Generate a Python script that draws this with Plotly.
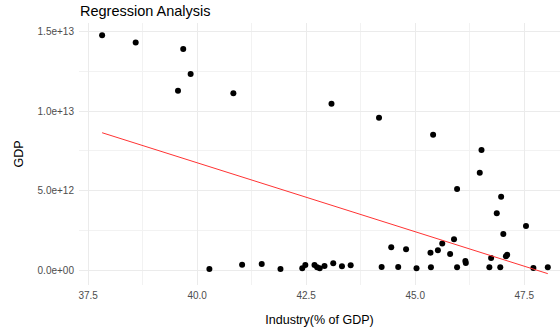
import plotly.graph_objects as go

# Industry (% of GDP) and GDP values
industry = [37.82, 38.59, 39.68, 39.85, 39.56, 40.83, 43.08, 44.17, 45.41, 46.52,
            46.48, 45.96, 46.97, 46.87, 47.54, 47.02, 45.89, 45.62, 45.52, 45.35,
            45.80, 47.11, 47.08, 46.15, 46.16, 46.74, 45.36, 45.96, 46.70, 46.95,
            47.71, 48.04, 44.45, 44.79, 44.23, 44.61, 45.03, 42.69, 42.75, 42.81,
            42.92, 43.12, 43.32, 43.52, 40.28, 41.03, 41.48, 41.91, 42.41, 42.48]
gdp_e12 = [14.77, 14.31, 13.91, 12.33, 11.28, 11.12, 10.47, 9.58, 8.51, 7.55,
           6.12, 5.10, 4.61, 3.57, 2.77, 2.27, 1.93, 1.66, 1.24, 1.09,
           1.01, 0.96, 0.86, 0.57, 0.44, 0.76, 0.17, 0.17, 0.17, 0.17,
           0.13, 0.17, 1.43, 1.30, 0.19, 0.19, 0.11, 0.31, 0.17, 0.11,
           0.25, 0.42, 0.23, 0.30, 0.06, 0.33, 0.38, 0.06, 0.11, 0.31]
gdp = [v * 1e12 for v in gdp_e12]

# regression line end points
fit_x = [37.82, 48.04]
fit_y = [8.64e12, -0.23e12]

y_tickvals = [0, 5e12, 1e13, 1.5e13]
y_ticktext = ["0.0e+00", "5.0e+12", "1.0e+13", "1.5e+13"]
x_tickvals = [37.5, 40.0, 42.5, 45.0, 47.5]
x_ticktext = ["37.5", "40.0", "42.5", "45.0", "47.5"]

W, H = 560, 333

fig = go.Figure()
fig.add_trace(go.Scatter(x=industry, y=gdp, mode="markers",
                         marker=dict(color="black", size=6), hoverinfo="x+y"))
fig.add_trace(go.Scatter(x=fit_x, y=fit_y, mode="lines",
                         line=dict(color="#ff3333", width=1)))

fig.update_layout(
    width=W, height=H,
    margin=dict(l=79, r=0, t=23, b=48),
    paper_bgcolor="white", plot_bgcolor="white",
    showlegend=False,
    font=dict(family="Liberation Sans, Arial, sans-serif", color="#1a1a1a"),
    title=dict(text="Regression Analysis", x=80 / W, xanchor="left",
               y=1 - 11 / H, yanchor="middle",
               font=dict(size=14.5, color="black")),
)
fig.update_xaxes(
    range=[37.29, 48.32], tickvals=x_tickvals, ticktext=x_ticktext,
    showgrid=True, gridcolor="#ebebeb", gridwidth=1, zeroline=False,
    showline=False, ticks="", ticklabelstandoff=3,
    tickfont=dict(size=10, color="#4d4d4d"),
    minor=dict(dtick=1.25, tick0=37.5, showgrid=True, gridcolor="#f2f2f2", gridwidth=0.6),
    title=dict(text="Industry(% of GDP)", font=dict(size=12.5, color="black"), standoff=15),
)
fig.update_yaxes(
    range=[-0.944e12, 15.545e12], tickvals=y_tickvals, ticktext=y_ticktext,
    showgrid=True, gridcolor="#ebebeb", gridwidth=1, zeroline=False,
    showline=False, ticks="", ticklabelstandoff=4,
    tickfont=dict(size=10, color="#4d4d4d"),
    minor=dict(dtick=2.5e12, tick0=0, showgrid=True, gridcolor="#f2f2f2", gridwidth=0.6),
    title=dict(text="GDP", font=dict(size=12.5, color="black"), standoff=11),
)

fig.write_html("out.html", config={"displayModeBar": False},
               post_script="document.body.style.margin='0';document.body.style.overflow='hidden';")
